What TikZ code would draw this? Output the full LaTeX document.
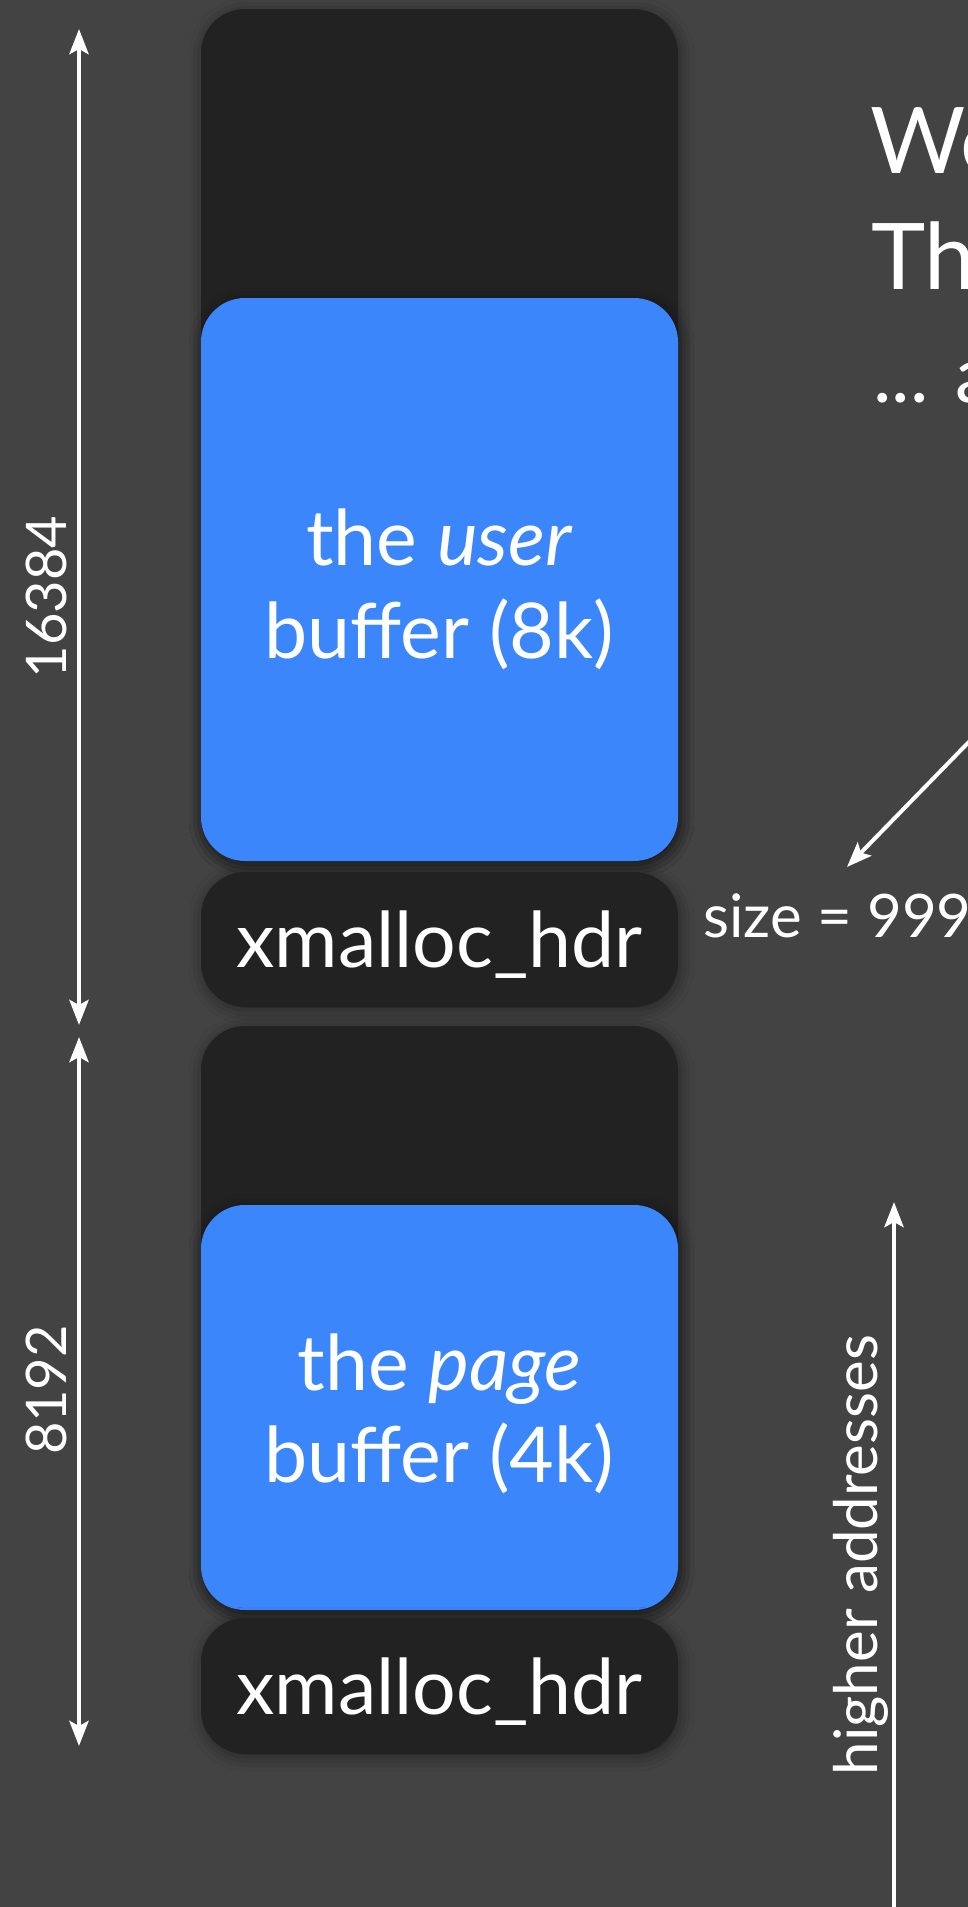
\documentclass[tikz,border=0pt]{standalone}
\usepackage{fontspec}
\setmainfont{Lato}
\usetikzlibrary{arrows.meta,shadows.blur,calc}
\definecolor{bg}{RGB}{67,67,67}
\definecolor{slot}{RGB}{34,34,34}
\definecolor{buf}{RGB}{60,134,252}

\begin{document}
\begin{tikzpicture}[x=1pt,y=-1pt,
  >={Stealth[length=25pt, width=19pt, inset=5pt]},
  box/.style={rectangle, rounded corners=44pt, minimum width=477pt,
    inner sep=0pt, draw=none,
    blur shadow={shadow xshift=2pt, shadow yshift=-3pt,
      shadow blur radius=14pt, shadow opacity=45}},
  slotbox/.style={box, fill=slot},
  bufbox/.style={box, fill=buf},
  lbl/.style={text=white, inner sep=0pt, anchor=base},
  boxtext/.style={lbl, font=\fontsize{77}{80}\selectfont},
  dimtext/.style={lbl, rotate=90, font=\fontsize{56}{60}\selectfont},
  sidetext/.style={text=white, inner sep=0pt, font=\fontsize{60}{64}\selectfont},
  titletext/.style={text=white, inner sep=0pt, anchor=base west, font=\fontsize{92}{96}\selectfont},
  arrowline/.style={draw=white, line width=4.5pt},
]
% page and background
\useasboundingbox (0,0) rectangle (968,1907);
\fill[bg] (0,0) rectangle (968,1907);

% upper allocation: slot, user buffer, header
\node[slotbox, minimum height=852pt] (slotA) at (439.5,435) {};
\node[bufbox, minimum height=563pt] (userbuf) at (439.5,579.5) {};
\node[slotbox, minimum height=135pt] (hdrA) at (439.5,939.5) {};

% lower allocation: slot, page buffer, header
\node[slotbox, minimum height=584pt] (slotB) at (439.5,1318) {};
\node[bufbox, minimum height=405pt] (pagebuf) at (439.5,1407.5) {};
\node[slotbox, minimum height=136pt] (hdrB) at (439.5,1686) {};

% box labels
\node[boxtext] (userA) at ($(userbuf.center)+(0,-14.5)$) {the \textit{user}};
\node[boxtext] (userB) at ($(userbuf.center)+(0,78.5)$) {buffer (8k)};
\node[boxtext] (pageA) at ($(pagebuf.center)+(0,-17.5)$) {the \textit{page}};
\node[boxtext] (pageB) at ($(pagebuf.center)+(0,74.5)$) {buffer (4k)};
\node[boxtext] (hdrAtext) at ($(hdrA.center)+(0,28)$) {xmalloc\_hdr};
\node[boxtext] (hdrBtext) at ($(hdrB.center)+(0,28)$) {xmalloc\_hdr};

% size dimensions on the left
\coordinate (dimAtop) at (79,29);
\coordinate (dimAbot) at (79,1025);
\coordinate (dimBtop) at (79,1037);
\coordinate (dimBbot) at (79,1746);
\draw[arrowline, <->] (dimAtop) -- (dimAbot);
\draw[arrowline, <->] (dimBtop) -- (dimBbot);
\node[dimtext] (dimAtext) at (66,597) {16384};
\node[dimtext] (dimBtext) at (66,1390) {8192};

% heading text on the right
\node[titletext] (titleA) at (870,173) {We};
\node[titletext] (titleB) at (871,289) {Th};
\node[titletext, font=\fontsize{78}{80}\selectfont] (titleC) at (873,402) {... a};

% size annotation
\node[sidetext, anchor=base west] (sizelbl) at (703,937) {size = 999};
\coordinate (sizefrom) at (1000,710);
\coordinate (sizeto) at (847,867);
\draw[arrowline, line width=4pt, ->] (sizefrom) -- (sizeto);

% address direction
\coordinate (addrfrom) at (894,1930);
\coordinate (addrto) at (894,1202);
\draw[arrowline, ->] (addrfrom) -- (addrto);
\node[sidetext, anchor=base, rotate=90] (addrlbl) at (877,1555) {higher addresses};
\end{tikzpicture}
\end{document}
